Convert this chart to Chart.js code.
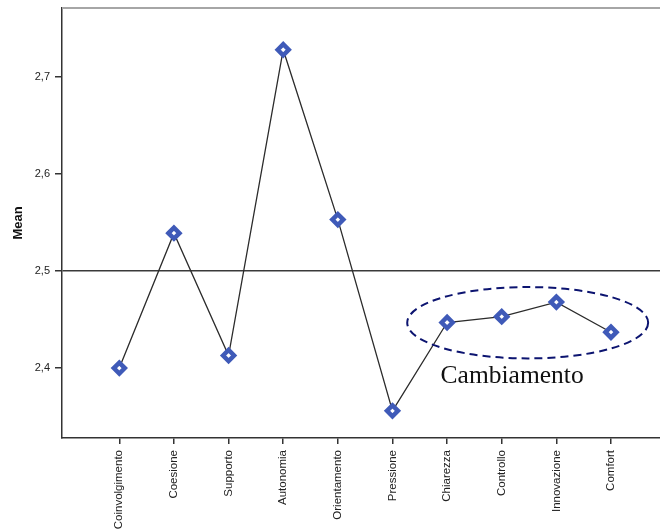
<!DOCTYPE html>
<html>
<head>
<meta charset="utf-8">
<script src="https://cdn.jsdelivr.net/npm/chart.js@4"></script>
<style>
  html, body { margin: 0; padding: 0; background: #fff; overflow: hidden; }
  #wrap { width: 660px; height: 531px; }
</style>
</head>
<body>
<div id="wrap"><canvas id="meanChart"></canvas></div>
<script>
// categorie e medie
const categories = ['Coinvolgimento', 'Coesione', 'Supporto', 'Autonomia', 'Orientamento',
  'Pressione', 'Chiarezza', 'Controllo', 'Innovazione', 'Comfort'];
const meanValues = [2.400, 2.539, 2.413, 2.728, 2.553, 2.356, 2.447, 2.453, 2.468, 2.437];
const yTicks = [2.4, 2.5, 2.6, 2.7];
const referenceLine = 2.5;

// ellisse tratteggiata + etichetta (in unita' del grafico)
const highlight = { xFrom: 5.27, xTo: 9.68, yFrom: 2.410, yTo: 2.4835, label: 'Cambiamento', labelX: 7.19, labelY: 2.3845 };

const fmt = v => v.toFixed(1).replace('.', ',');

const annotationPlugin = {
  id: 'annotazioni',
  afterDatasetsDraw(chart) {
    const { ctx, chartArea, scales: { x, y } } = chart;
    // bordo superiore grigio
    ctx.save();
    ctx.strokeStyle = '#a6a6a6';
    ctx.lineWidth = 2;
    ctx.beginPath();
    ctx.moveTo(chartArea.left, chartArea.top);
    ctx.lineTo(chartArea.right, chartArea.top);
    ctx.stroke();

    const x1 = x.getPixelForValue(highlight.xFrom), x2 = x.getPixelForValue(highlight.xTo);
    const y1 = y.getPixelForValue(highlight.yTo), y2 = y.getPixelForValue(highlight.yFrom);
    ctx.strokeStyle = '#0c1470';
    ctx.lineWidth = 2;
    ctx.setLineDash([8, 5]);
    ctx.beginPath();
    ctx.ellipse((x1 + x2) / 2, (y1 + y2) / 2, (x2 - x1) / 2, (y2 - y1) / 2, 0, 0, Math.PI * 2);
    ctx.stroke();
    ctx.setLineDash([]);

    ctx.fillStyle = '#111';
    ctx.font = '25.5px "Liberation Serif", serif';
    ctx.textAlign = 'center';
    ctx.textBaseline = 'alphabetic';
    ctx.fillText(highlight.label, x.getPixelForValue(highlight.labelX), y.getPixelForValue(highlight.labelY));
    ctx.restore();
  }
};

const ctx = document.getElementById('meanChart');

new Chart(ctx, {
  type: 'line',
  data: {
    datasets: [{
      label: 'Mean',
      data: meanValues.map((v, i) => ({ x: i, y: v })),
      borderColor: '#2b2b2b',
      borderWidth: 1.3,
      pointStyle: 'rectRot',
      pointRadius: 5.5,
      pointBorderWidth: 4.5,
      pointBorderColor: '#3f5ab8',
      pointBackgroundColor: '#ffffff',
      tension: 0
    }]
  },
  options: {
    responsive: true,
    maintainAspectRatio: false,
    animation: false,
    events: [],
    layout: { autoPadding: false, padding: { top: 8, right: 0, left: 0, bottom: 0 } },
    plugins: { legend: { display: false }, tooltip: { enabled: false } },
    scales: {
      x: {
        type: 'linear',
        min: -1.049,
        max: 9.897,
        afterBuildTicks: s => { s.ticks = categories.map((_, i) => ({ value: i })); },
        afterFit: s => { s.height = 93; s.paddingLeft = 0; s.paddingRight = 0; },
        border: { color: '#333', width: 1.5 },
        grid: { drawOnChartArea: false, color: '#333', tickColor: '#333', tickLength: 6, lineWidth: 1.5 },
        ticks: {
          autoSkip: false,
          maxRotation: 90,
          minRotation: 90,
          padding: 6,
          color: '#222',
          font: { family: '"Liberation Sans", Arial, sans-serif', size: 11.5 },
          callback: v => categories[v]
        }
      },
      y: {
        min: 2.328,
        max: 2.771,
        afterBuildTicks: s => { s.ticks = yTicks.map(v => ({ value: v })); },
        afterFit: s => { s.width = 62; s.paddingTop = 0; s.paddingBottom = 0; },
        border: { color: '#333', width: 1.5 },
        grid: {
          color: c => (c.tick && Math.abs(c.tick.value - referenceLine) < 1e-9) ? '#3a3a3a' : 'rgba(0,0,0,0)',
          tickColor: '#333',
          tickLength: 7,
          lineWidth: 1.5
        },
        ticks: {
          padding: 5,
          color: '#222',
          font: { family: '"Liberation Sans", Arial, sans-serif', size: 11 },
          callback: v => fmt(v)
        },
        title: {
          display: true,
          text: 'Mean',
          color: '#111',
          padding: { top: 11, bottom: 0 },
          font: { family: '"Liberation Sans", Arial, sans-serif', size: 13, weight: 'bold' }
        }
      }
    }
  },
  plugins: [annotationPlugin]
});
</script>
</body>
</html>
